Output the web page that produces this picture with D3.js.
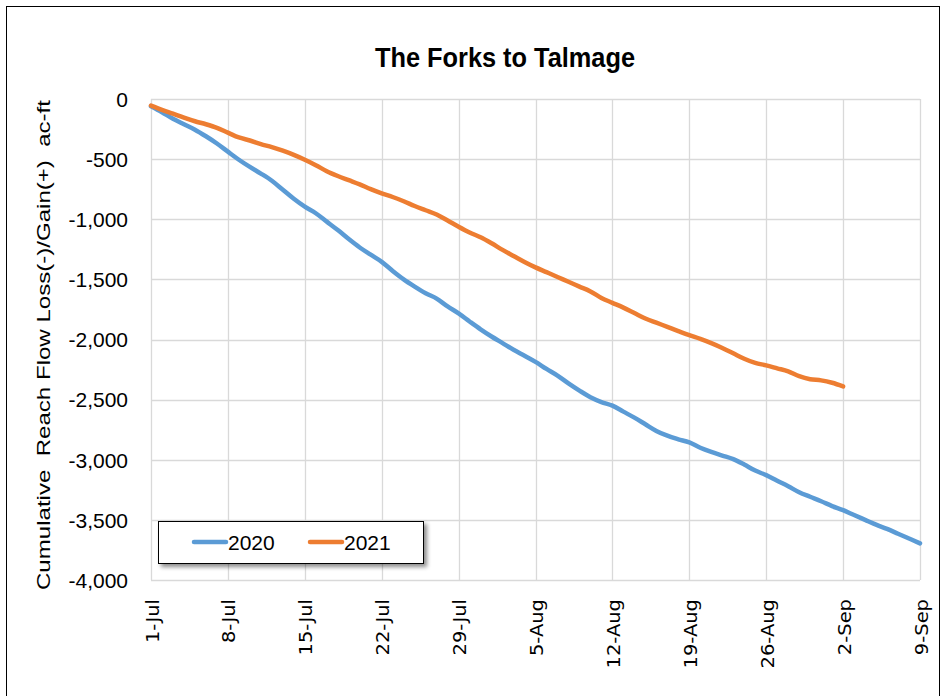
<!DOCTYPE html>
<html>
<head>
<meta charset="utf-8">
<script src="https://cdn.jsdelivr.net/npm/d3@7"></script>
<style>
  html, body { margin: 0; padding: 0; background: #fff; }
  svg { display: block; }
</style>
</head>
<body>
<svg id="chart" width="945" height="696"></svg>
<script>
// ---------------- data ----------------
const chartTitle = "The Forks to Talmage";
const yAxisTitle = "Cumulative  Reach Flow Loss(-)/Gain(+)  ac-ft";
const startDay = "1-Jul";
const endDay = "9-Sep";
const seriesNames = ["2020", "2021"];
// daily cumulative values (ac-ft) starting 1-Jul
const values2020 = [
  -60, -110, -165, -210, -255, -310, -370, -438, -505, -565,
  -620, -680, -755, -830, -896, -950, -1020, -1090, -1165, -1235,
  -1295, -1354, -1430, -1500, -1560, -1615, -1660, -1725, -1783, -1850,
  -1915, -1975, -2030, -2085, -2135, -2186, -2245, -2300, -2365, -2425,
  -2480, -2520, -2550, -2600, -2650, -2705, -2760, -2800, -2830, -2856,
  -2900, -2935, -2965, -2995, -3040, -3090, -3128, -3175, -3220, -3270,
  -3308, -3345, -3385, -3419, -3460, -3500, -3540, -3575, -3615, -3655,
  -3695
];
const values2021 = [
  -55, -90, -122, -155, -185, -210, -240, -280, -320, -345,
  -375, -400, -430, -465, -505, -550, -600, -640, -675, -710,
  -750, -785, -815, -850, -890, -925, -960, -1010, -1062, -1110,
  -1150, -1200, -1255, -1305, -1355, -1400, -1440, -1480, -1520, -1560,
  -1600, -1655, -1695, -1735, -1780, -1825, -1860, -1895, -1930, -1964,
  -1995, -2030, -2070, -2115, -2160, -2195, -2215, -2240, -2265, -2305,
  -2330, -2340, -2360, -2390
];
const xTickLabels = ["1-Jul","8-Jul","15-Jul","22-Jul","29-Jul","5-Aug","12-Aug","19-Aug","26-Aug","2-Sep","9-Sep"];
const yTickValues = [0, -500, -1000, -1500, -2000, -2500, -3000, -3500, -4000];
const seriesColors = ["#5B9BD5", "#ED7D31"];

// ---------------- chart ----------------
const svg = d3.select("#chart");
const parse = d3.timeParse("%e-%b");
const plot = { left: 151, right: 920, top: 99, bottom: 580 };

const x = d3.scaleTime()
  .domain([parse(startDay), parse(endDay)])
  .range([plot.left, plot.right]);
const y = d3.scaleLinear()
  .domain([-4000, 0])
  .range([plot.bottom, plot.top]);

const locale = d3.formatLocale({ decimal: ".", thousands: ",", grouping: [3], currency: ["", ""], minus: "-" });
const yFmt = locale.format(",");

// outer border
svg.append("rect")
  .attr("x", 6.5).attr("y", 6.5)
  .attr("width", 933).attr("height", 700)
  .attr("fill", "none").attr("stroke", "#000").attr("stroke-width", 1);

// title
svg.append("text")
  .attr("x", 505).attr("y", 67)
  .attr("text-anchor", "middle")
  .attr("font-family", "'Liberation Sans Narrow', 'Liberation Sans', sans-serif")
  .attr("font-weight", "bold")
  .attr("font-size", 28)
  .attr("fill", "#000")
  .attr("textLength", 260)
  .attr("lengthAdjust", "spacingAndGlyphs")
  .text(chartTitle);

// gridlines
const xTickDates = xTickLabels.map(parse);
const grid = svg.append("g");
grid.selectAll("line.v").data(xTickDates).join("line")
  .attr("x1", d => Math.round(x(d)) + 0.5).attr("x2", d => Math.round(x(d)) + 0.5)
  .attr("y1", plot.top).attr("y2", plot.bottom)
  .attr("stroke", "#D9D9D9").attr("stroke-width", 1.3);
grid.selectAll("line.h").data(yTickValues).join("line")
  .attr("x1", plot.left).attr("x2", plot.right)
  .attr("y1", d => Math.round(y(d)) + 0.5).attr("y2", d => Math.round(y(d)) + 0.5)
  .attr("stroke", "#D9D9D9").attr("stroke-width", 1.3);

// y axis labels
const yAxis = d3.axisLeft(y).tickValues(yTickValues).tickFormat(yFmt).tickSize(0).tickPadding(0);
const gy = svg.append("g").attr("transform", `translate(${plot.left - 23},0)`).call(yAxis);
gy.select(".domain").remove();
gy.selectAll("text")
  .attr("font-family", "'Liberation Sans', Arial, sans-serif")
  .attr("font-size", 21)
  .attr("fill", "#000")
  .attr("dy", "0.35em");

// x axis labels (rotated)
const xAxis = d3.axisBottom(x).tickValues(xTickDates).tickFormat((d, i) => xTickLabels[i]).tickSize(0);
const gx = svg.append("g").attr("transform", `translate(0,${plot.bottom})`).call(xAxis);
gx.select(".domain").remove();
gx.selectAll("text")
  .attr("font-family", "'DejaVu Sans', sans-serif")
  .attr("font-size", 19.5)
  .attr("fill", "#000")
  .attr("text-anchor", "end")
  .attr("x", 0).attr("y", 0).attr("dy", 0)
  .attr("transform", "translate(7,19) rotate(-90) scale(1,0.9)");

// y axis title
svg.append("text")
  .attr("transform", "translate(50,345) rotate(-90)")
  .attr("text-anchor", "middle")
  .attr("font-family", "'Liberation Sans', Arial, sans-serif")
  .attr("font-size", 19)
  .attr("fill", "#000")
  .attr("textLength", 490)
  .attr("lengthAdjust", "spacingAndGlyphs")
  .style("white-space", "pre")
  .text(yAxisTitle);

// lines
const start = parse(startDay);
const series = [values2020, values2021].map((vals, k) => ({
  name: seriesNames[k],
  color: seriesColors[k],
  points: vals.map((v, i) => ({ date: d3.timeDay.offset(start, i), value: v }))
}));
const line = d3.line().x(d => x(d.date)).y(d => y(d.value)).curve(d3.curveMonotoneX);
svg.append("g").selectAll("path").data(series).join("path")
  .attr("d", d => line(d.points))
  .attr("fill", "none")
  .attr("stroke", d => d.color)
  .attr("stroke-width", 4.5)
  .attr("stroke-linecap", "round")
  .attr("stroke-linejoin", "round");

// legend
const defs = svg.append("defs");
const f = defs.append("filter").attr("id", "shadow").attr("x", "-10%").attr("y", "-20%").attr("width", "130%").attr("height", "160%");
f.append("feDropShadow").attr("dx", 3).attr("dy", 3).attr("stdDeviation", 2).attr("flood-color", "#000").attr("flood-opacity", 0.45);
const lg = svg.append("g").attr("transform", "translate(158,521)");
lg.append("rect")
  .attr("x", 0.5).attr("y", 0.5).attr("width", 265).attr("height", 42)
  .attr("fill", "#fff").attr("stroke", "#000").attr("stroke-width", 1)
  .attr("filter", "url(#shadow)");
const items = lg.selectAll("g.item").data(series).join("g")
  .attr("transform", (d, i) => `translate(${36 + i * 116},21)`);
items.append("line")
  .attr("x1", 0).attr("x2", 32).attr("y1", 0).attr("y2", 0)
  .attr("stroke", d => d.color).attr("stroke-width", 4.5).attr("stroke-linecap", "round");
items.append("text")
  .attr("x", 34).attr("y", 0).attr("dy", "0.36em")
  .attr("font-family", "'Liberation Sans', Arial, sans-serif")
  .attr("font-size", 21)
  .attr("fill", "#000")
  .text(d => d.name);
</script>
</body>
</html>
